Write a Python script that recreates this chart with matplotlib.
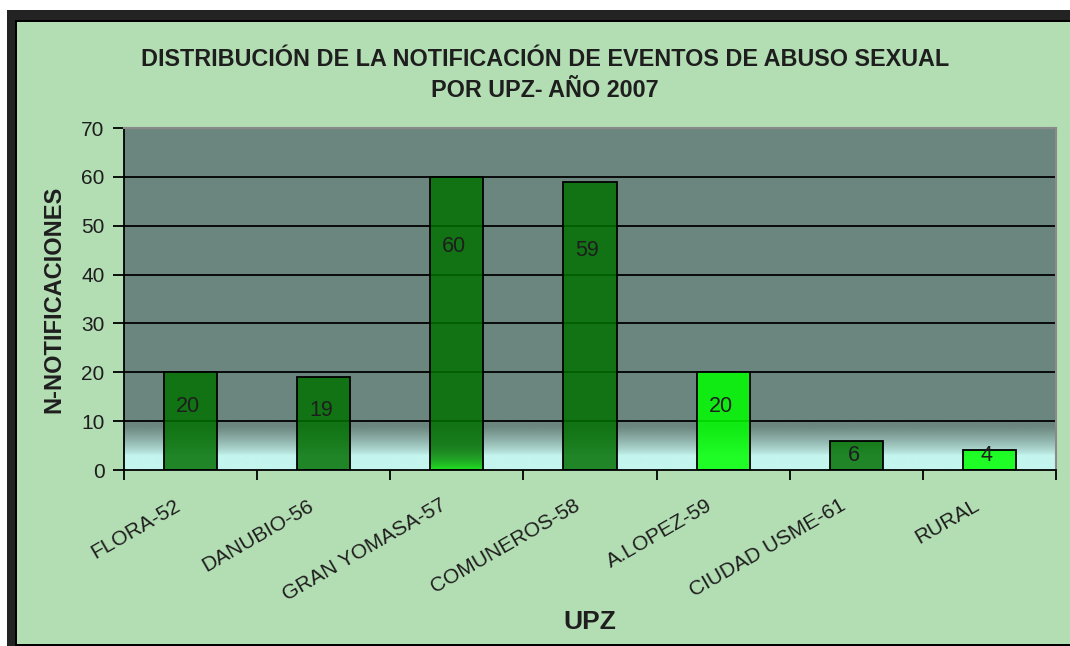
import numpy as np
import matplotlib.pyplot as plt
from matplotlib.colors import LinearSegmentedColormap, to_rgb
from matplotlib.patches import Rectangle
from matplotlib.transforms import ScaledTranslation

categories = ['FLORA-52', 'DANUBIO-56', 'GRAN YOMASA-57', 'COMUNEROS-58',
              'A.LOPEZ-59', 'CIUDAD USME-61', 'RURAL']
values = [20, 19, 60, 59, 20, 6, 4]
bright = [False, False, False, False, True, False, True]
yticks = [0, 10, 20, 30, 40, 50, 60, 70]

title = 'DISTRIBUCIÓN DE LA NOTIFICACIÓN DE EVENTOS DE ABUSO SEXUAL\nPOR UPZ- AÑO 2007'

plt.rcParams['font.family'] = ['Liberation Sans', 'DejaVu Sans']
text_col = '#1e1e1e'
fig_bg = '#b3ddb3'
plot_bg = '#6b867e'
low_bg = '#c4f5ee'

fig = plt.figure(figsize=(10.7, 6.46), dpi=100)
fig.patch.set_facecolor('white')

# green panel with a dark frame on top/left, like the pasted excel chart
fig.patches.append(Rectangle((7 / 1070, 0), 1, 1 - 10 / 646, transform=fig.transFigure,
                             facecolor='#232323', edgecolor='none', zorder=-3))
fig.patches.append(Rectangle((15 / 1070, 0), 1, 1 - 20 / 646,
                             transform=fig.transFigure, facecolor='black',
                             edgecolor='none', zorder=-2))
fig.patches.append(Rectangle((17 / 1070, 2 / 646), 1, 1 - 24 / 646,
                             transform=fig.transFigure, facecolor=fig_bg,
                             edgecolor='none', zorder=-1))

ax = fig.add_axes([124 / 1070, 1 - 470 / 646, 932 / 1070, 342 / 646])
ax.set_facecolor(plot_bg)

x = np.arange(len(categories))
ax.set_xlim(-0.5, len(categories) - 0.5)
ax.set_ylim(0, 70)

# lower band of the plot area fades from grey-green into light cyan
t = np.linspace(0, 1, 200)
grad = np.clip((t - 0.3) / 0.6, 0, 1) ** 0.8
cmap = LinearSegmentedColormap.from_list('bg', [low_bg, plot_bg])
ax.imshow(grad[:, None], aspect='auto', cmap=cmap, origin='lower',
          extent=(-0.5, len(categories) - 0.5, 0, 10), zorder=0,
          interpolation='bilinear')

for y in yticks[1:-1]:
    ax.axhline(y, color='black', lw=1.3, zorder=1)
ax.axhline(70, color='#8a8a8a', lw=1.5, zorder=1)

colors = ['#00ff00' if b else '#007000' for b in bright]
bars = ax.bar(x, values, width=0.4, color=colors, alpha=0.84,
              edgecolor='none', zorder=2)
ax.bar(x, values, width=0.4, facecolor='none', edgecolor='black',
       lw=1.3, zorder=3)

# the GRAN YOMASA bar turns bright green near its base
b = bars[2]
fade = np.linspace(1, 0, 100) ** 2.5
rgba = np.zeros((100, 1, 4))
rgba[..., :3] = to_rgb('#20f020')
rgba[:, 0, 3] = fade * 0.9
ax.imshow(rgba, aspect='auto', origin='lower', zorder=2.5,
          extent=(b.get_x(), b.get_x() + b.get_width(), 0, 6))

for xi, v in zip(x, values):
    ax.text(xi - 0.02, max(v * 0.82 - 3.5, 3), str(v), ha='center', va='center',
            fontsize=15.5, color=text_col, zorder=4)

ax.set_yticks(yticks)
ax.set_xticks(x)
ax.set_xticklabels([])
ax.set_xticks(np.arange(len(categories) + 1) - 0.5, minor=True)
ax.tick_params(axis='x', which='major', length=0)
ax.tick_params(axis='x', which='minor', length=7, width=1.3, direction='out')
ax.tick_params(axis='y', length=8, width=1.3, labelsize=15, labelcolor=text_col,
               pad=6)

# category names: rotated, ending just left of each category centre
lab_tr = ax.get_xaxis_transform() + ScaledTranslation(-12 / 100, -34 / 100,
                                                      fig.dpi_scale_trans)
for xi, name in zip(x, categories):
    ax.text(xi, 0, name, transform=lab_tr, rotation=30, ha='right',
            va='center', rotation_mode='anchor', fontsize=15, color=text_col,
            clip_on=False)

for s in ['left', 'bottom']:
    ax.spines[s].set_linewidth(1.3)
for s in ['top', 'right']:
    ax.spines[s].set_color('#8a8a8a')
    ax.spines[s].set_linewidth(1.5)

ax.set_ylabel('N-NOTIFICACIONES', fontsize=17, fontweight='bold',
              color=text_col)
ax.yaxis.set_label_coords(-59 / 932, 0.5)
ax.set_xlabel('UPZ', fontsize=19, fontweight='bold', color=text_col)
ax.xaxis.set_label_coords(0.5, -140 / 342)

fig.text(545 / 1070, 1 - 75 / 646, title, ha='center', va='center',
         fontsize=16.8, fontweight='bold', color=text_col, linespacing=1.4)

fig.savefig('out.png', dpi=100, facecolor=fig.get_facecolor())
